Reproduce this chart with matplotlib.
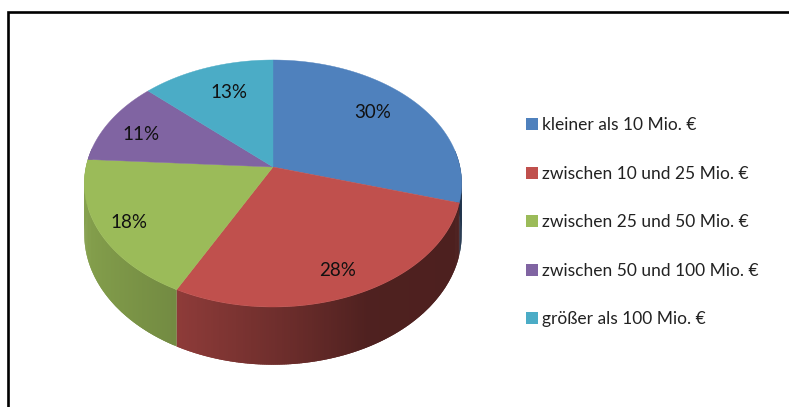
import numpy as np
import matplotlib
matplotlib.use("Agg")
import matplotlib.pyplot as plt
from matplotlib.patches import Patch

# data
categories = ["kleiner als 10 Mio. €", "zwischen 10 und 25 Mio. €", "zwischen 25 und 50 Mio. €",
              "zwischen 50 und 100 Mio. €", "größer als 100 Mio. €"]
values = [29.6, 27.9, 18.5, 11.0, 13.0]
value_labels = ["30%", "28%", "18%", "11%", "13%"]

# style / layout
colors = ["#4F81BD", "#C0504D", "#9BBB59", "#8064A2", "#4BACC6"]
label_pos = [(373, 113), (338, 270), (129, 223), (141, 134), (229, 92)]
CX, CY, RX, RY, K, DEPTH = 273.0, 167.0, 187.0, 121.3, 0.1336, 50.0
W, H = 789, 407
plt.rcParams['font.family'] = ['Lato', 'DejaVu Sans']

def project(theta, r=1.0, depth=0.0):
    u, v = r * np.sin(theta), r * np.cos(theta)
    d = 1 + K * v
    return CX + RX * u / d, CY - RY * v / d + depth / d

def shade(hex_color, theta):
    f = np.interp(np.sin(theta), [-1, -.45, .1, .45, 1], [.86, .74, .55, .41, .40])
    return tuple(c * f for c in matplotlib.colors.to_rgb(hex_color))

fig = plt.figure(figsize=(W / 100, H / 100), dpi=100, facecolor="white")
ax = fig.add_axes([0, 0, 1, 1])
ax.set_xlim(0, W)
ax.set_ylim(H, 0)
ax.axis("off")

ends = np.cumsum(values) / np.sum(values) * 2 * np.pi
starts = np.concatenate([[0], ends[:-1]])

# side wall: overlapping narrow slices, painted in angle order, so no seams show
for a0, a1, col in zip(starts, ends, colors):
    n = max(2, int((a1 - a0) / 0.01))
    grid = np.linspace(a0, a1, n)
    for t0, t1 in zip(grid[:-1], grid[1:]):
        if np.cos((t0 + t1) / 2) > 0.15:
            continue
        t1e = min(t1 + 0.012, a1)
        x0, y0 = project(t0)
        x1, y1 = project(t1e)
        x2, y2 = project(t1e, depth=DEPTH)
        x3, y3 = project(t0, depth=DEPTH)
        c = shade(col, (t0 + t1) / 2)
        ax.fill([x0, x1, x2, x3], [y0, y1, y2, y3], facecolor=c, edgecolor="none", lw=0, zorder=2)

# top face
for a0, a1, col in zip(starts, ends, colors):
    t = np.linspace(a0, a1, 200)
    xs, ys = project(t)
    ax.fill(np.r_[CX, xs], np.r_[CY, ys], color=col, lw=0.3, zorder=3)

for (x, y), s in zip(label_pos, value_labels):
    ax.text(x, y, s, ha="center", va="center", fontsize=13.5, color="#111111", zorder=5)

# partial frame
ax.plot([8, 8, W], [H, 12, 12], color="black", lw=1.9, solid_joinstyle="miter", zorder=6, clip_on=False)

handles = [Patch(facecolor=c, edgecolor="none") for c in colors]
ax.legend(handles, categories, loc="upper left", bbox_to_anchor=(522.5 / W, 1 - 114 / H),
          bbox_transform=fig.transFigure, frameon=False, fontsize=12.5,
          handlelength=0.69, handleheight=0.69, handletextpad=0.23, labelspacing=1.87,
          borderpad=0.2, borderaxespad=0, labelcolor="#222222")

fig.savefig("out.png", dpi=100)
